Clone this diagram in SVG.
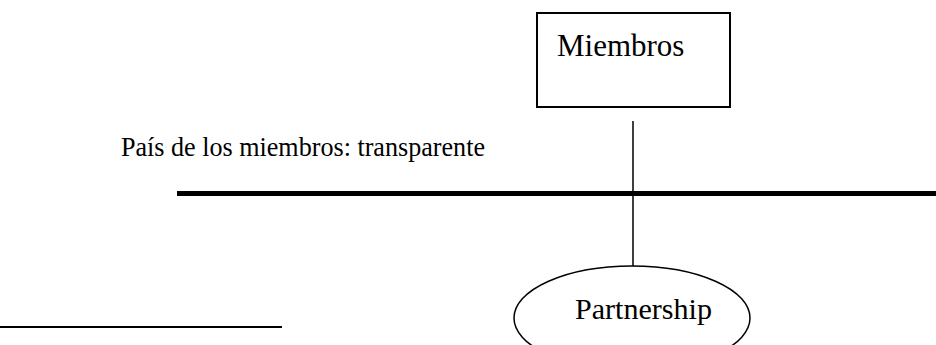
<svg xmlns="http://www.w3.org/2000/svg" width="936" height="345" viewBox="0 0 936 345">
<style>
text{font-family:"Liberation Serif","Times New Roman",serif;font-size:28px;fill:#000}
.ln{stroke:#000;fill:none}
</style>
<rect width="936" height="345" fill="#fff"/>
<g id="connectors">
<line class="ln" x1="633" y1="121" x2="633" y2="266" stroke-width="1.5"/>
</g>
<g id="miembros">
<rect x="537" y="13" width="193" height="94" class="ln" stroke-width="2"/>
<text x="557" y="56" style="font-size:31px">Miembros</text>
</g>
<g id="pais">
<text x="121" y="156" textLength="364" lengthAdjust="spacingAndGlyphs">País de los miembros: transparente</text>
</g>
<g id="barrier">
<line class="ln" x1="177" y1="193.5" x2="936" y2="193.5" stroke-width="5"/>
</g>
<g id="partnership">
<ellipse cx="632" cy="318" rx="118" ry="52" class="ln" stroke-width="1.5"/>
<text x="575" y="319" style="font-size:30px" textLength="137" lengthAdjust="spacingAndGlyphs">Partnership</text>
</g>
<g id="footnote">
<line class="ln" x1="0" y1="327" x2="282" y2="327" stroke-width="2"/>
</g>
</svg>
